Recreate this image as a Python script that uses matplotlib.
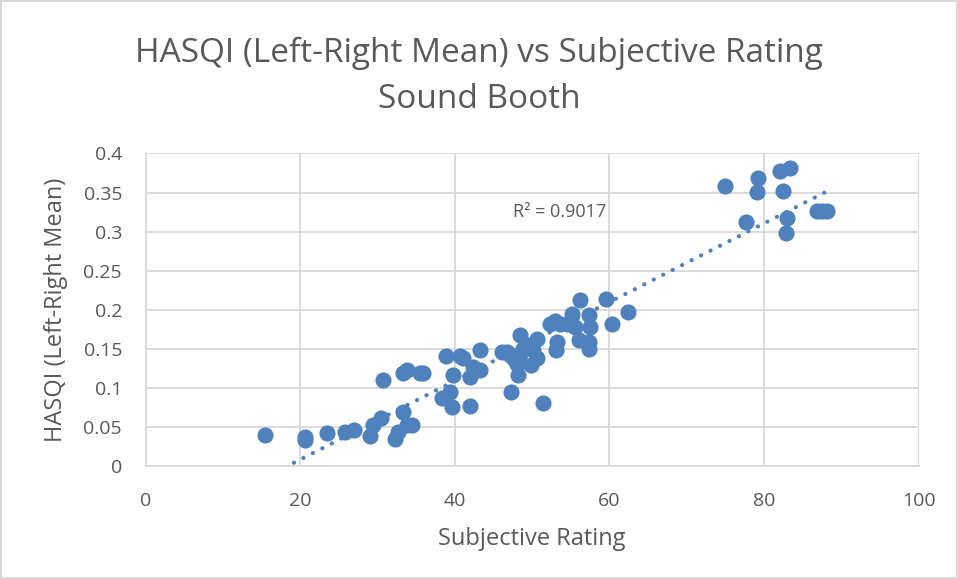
import numpy as np
import matplotlib
matplotlib.use('Agg')
from matplotlib import pyplot as plt

# subjective rating (x) and HASQI left-right mean (y)
rating = [15.5, 20.6, 20.6, 23.4, 25.8, 26.9, 29.0, 29.4, 30.5, 30.7,
          32.3, 32.7, 33.3, 33.8, 34.4, 33.3, 33.8, 35.5, 35.9, 38.3,
          39.4, 39.6, 38.9, 39.8, 40.7, 41.1, 43.2, 42.4, 43.2, 42.0,
          42.0, 46.1, 47.1, 48.4, 48.4, 48.0, 48.2, 47.3, 48.8, 50.6,
          50.1, 50.6, 49.9, 51.4, 52.3, 52.9, 53.2, 53.1, 53.6, 54.5,
          55.1, 55.5, 56.2, 57.3, 57.5, 56.0, 57.3, 57.3, 59.6, 60.3,
          62.4, 74.9, 77.7, 79.2, 79.1, 82.0, 83.4, 82.5, 82.9, 82.8,
          86.8, 87.5, 88.1, 47.6, 46.8, 49.5]
hasqi = [0.040, 0.034, 0.037, 0.042, 0.044, 0.046, 0.038, 0.052, 0.061, 0.110,
         0.035, 0.044, 0.069, 0.052, 0.052, 0.119, 0.123, 0.119, 0.119, 0.087,
         0.095, 0.076, 0.141, 0.116, 0.141, 0.138, 0.149, 0.127, 0.123, 0.114,
         0.077, 0.146, 0.142, 0.168, 0.144, 0.131, 0.116, 0.095, 0.150, 0.163,
         0.148, 0.138, 0.129, 0.081, 0.182, 0.185, 0.159, 0.148, 0.182, 0.182,
         0.195, 0.178, 0.212, 0.193, 0.178, 0.161, 0.159, 0.150, 0.214, 0.182,
         0.197, 0.358, 0.312, 0.368, 0.351, 0.378, 0.382, 0.352, 0.317, 0.298,
         0.326, 0.326, 0.326, 0.137, 0.146, 0.155]

r2_label = 'R² = 0.9017'
title = 'HASQI (Left-Right Mean) vs Subjective Rating\nSound Booth'

plt.rcParams['font.family'] = ['Open Sans', 'DejaVu Sans']
txt = '#595959'
grid = '#d9d9d9'
blue = '#4f81bd'

fig = plt.figure(figsize=(9.58, 5.79), dpi=100)
fig.patch.set_edgecolor(grid)
fig.patch.set_linewidth(1.5)
ax = fig.add_axes([0.152, 0.195, 0.807, 0.54])

ax.scatter(rating, hasqi, s=135, color=blue, zorder=3, linewidths=0)

# linear trendline over the data range
k, b = np.polyfit(rating, hasqi, 1)
xs = np.array([min(rating), max(rating)])
ax.plot(xs, k * xs + b, linestyle=(0, (0.05, 2.5)), color=blue, lw=3,
        dash_capstyle='round', zorder=2)
ax.text(47.5, 0.325, r2_label, fontsize=13, color=txt, ha='left', va='center')

ax.set_xlim(0, 100)
ax.set_ylim(0, 0.4)
ax.set_xticks(range(0, 101, 20))
ax.set_yticks(np.arange(0, 0.41, 0.05))
ax.set_yticklabels(['0', '0.05', '0.1', '0.15', '0.2', '0.25', '0.3', '0.35', '0.4'])
ax.grid(True, color=grid, lw=1.3)
ax.set_axisbelow(True)
for s in ['top', 'right']:
    ax.spines[s].set_visible(False)
for s in ['left', 'bottom']:
    ax.spines[s].set_color(grid)
    ax.spines[s].set_linewidth(1.3)
ax.tick_params(length=0, labelsize=14, colors=txt)
ax.tick_params(axis='y', pad=17)
ax.tick_params(axis='x', pad=19)

ax.set_xlabel('Subjective Rating', fontsize=17, color=txt, labelpad=12)
ax.set_ylabel('HASQI (Left-Right Mean)', fontsize=17, color=txt, labelpad=11)
fig.suptitle(title, fontsize=24, color=txt, y=0.937, linespacing=1.55)

fig.savefig('out.png', dpi=100)
